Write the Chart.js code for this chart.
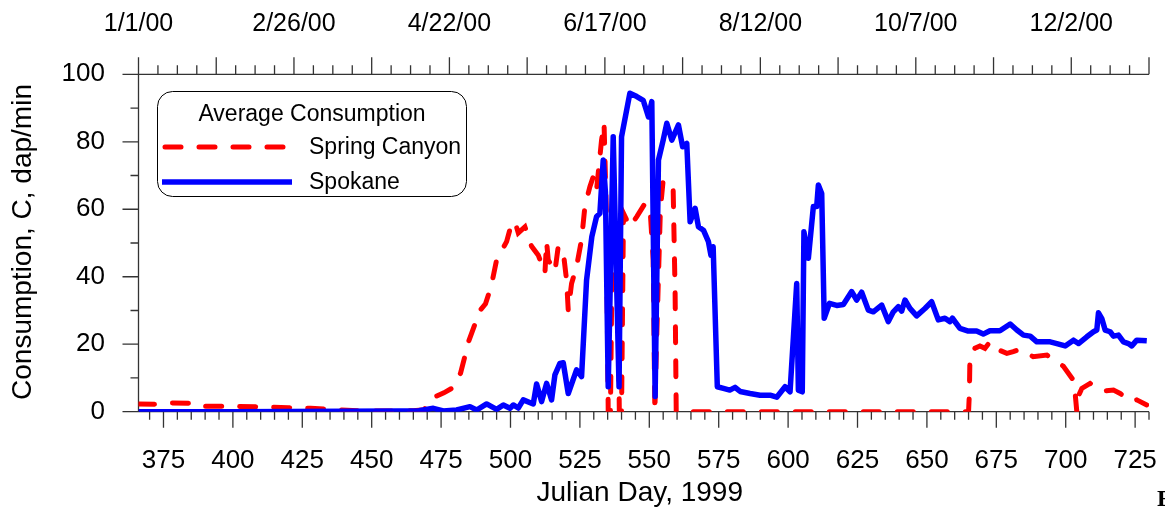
<!DOCTYPE html>
<html>
<head>
<meta charset="utf-8">
<script src="https://cdn.jsdelivr.net/npm/chart.js@4/dist/chart.umd.min.js"></script>
<style>
  html, body { margin: 0; padding: 0; background: #fff; }
  #wrap { width: 1165px; height: 510px; }
</style>
</head>
<body>
<div id="wrap"><canvas id="chart" width="1165" height="510"></canvas></div>
<script>
// Spring Canyon (red dashed) - Julian day / consumption
const springDays = [366, 372, 378, 386, 388, 400, 410, 420, 428, 436, 445, 455, 465, 469, 471, 473, 476, 479,
  482, 485, 489, 491, 493, 495, 498.6, 500.4, 501.6, 502.8, 505.2, 507.6, 510, 512.4, 513, 513.6, 516, 517.2,
  519, 520.2, 520.8, 522, 523.8, 525.6, 526.8, 528.6, 529.8, 531, 532.8, 533.7, 534.5, 535.2, 536, 536.8,
  538.4, 539.2, 540, 540.7, 543, 545.5, 548.5, 550.3, 551.4, 552, 552.6, 554, 555, 556.5, 558.6, 559.3,
  559.7, 600, 640, 665, 665.3, 665.5, 667.3, 669.1, 670.9, 672.7, 674.5, 678.8, 681.1, 683.5, 688.3, 693.2,
  695, 699.1, 702.7, 703.4, 704, 704.5, 705.8, 708.8, 713.5, 717.2, 719.6, 723.8, 725.6, 729.2];
const springValues = [2.3, 2.2, 2.6, 2.5, 1.6, 1.6, 1.4, 1.2, 1.0, 0.6, 0.3, 0.2, 0.3, 0.6, 3.5, 4.5, 5.6, 7,
  11.4, 21, 30, 32, 37, 45, 50.4, 55.8, 56.3, 53, 54.8, 49, 46.4, 41, 50.4, 45, 41.5, 49,
  47.4, 39, 30, 38, 43, 51, 60.8, 66.7, 69.6, 65.7, 80.5, 85.5, 60, 0, 0, 60,
  58, 0, 0, 58.8, 54.8, 57.8, 61.8, 59.8, 45, 0, 20, 60, 68.7, 67, 65.7, 35,
  0, 0, 0, 0, 5.4, 16.3, 18.8, 19.5, 18.8, 20.7, 18.8, 17.3, 17.8, 18.5, 16.3, 16.8,
  15.8, 13.5, 9.4, 5.4, 0, 4.5, 6.9, 8.4, 6.1, 6.4, 5.4, 3.0, 3.5, 2.0];

// Spokane (blue solid)
const spokaneDays = [366, 400, 440, 460, 467, 472.2, 475.8, 480.6, 485.4, 487.8, 491.4, 495, 497.4, 499.8,
  501, 502.8, 504.6, 508.2, 509.4, 511.2, 513, 514.8, 516, 517.8, 519, 520.8, 523.8, 525.6, 527.4, 529.3,
  531, 532.2, 533.4, 534.2, 535.2, 537, 539.1, 540, 543, 545.5, 547.8, 549.7, 550.9, 552.1, 553.3, 555,
  556.3, 558.1, 560.5, 562, 563.5, 564.7, 566.5, 567.7, 569.5, 571.3, 572.2, 573, 574.5, 576.7, 579,
  580.9, 582.7, 586.3, 589.9, 593.5, 595.9, 598.9, 600.7, 603.1, 603.7, 605.1, 605.7, 607.3, 609.1, 610.3,
  610.9, 612.1, 613, 614.9, 617.5, 619.9, 622.9, 624.7, 626.5, 628.9, 630.7, 633.7, 636.1, 637.9, 639.7,
  640.9, 642.1, 643.9, 646.3, 649.3, 651.7, 654.1, 656.5, 658.3, 659.2, 661.9, 664.9, 667.9, 670.3, 672.7,
  676.3, 680, 682.4, 684.8, 687.2, 689.6, 694.4, 696.8, 699.8, 702.8, 704.6, 707.6, 710, 711.2, 711.8, 713,
  714.2, 716, 717.2, 719, 720.8, 722.6, 723.8, 725.6, 729.2];
const spokaneValues = [0, 0, 0.1, 0.2, 0.3, 1.0, 0.2, 0.5, 1.5, 0.5, 2.3, 0.7, 2.0, 1.0,
  2, 1.1, 3.5, 2.3, 8.2, 3.0, 8.4, 3.5, 10.9, 14.3, 14.5, 5.4, 12.4, 10.4, 39, 51.9,
  57.8, 58.8, 74.6, 65, 7.4, 81.5, 7.4, 81.5, 94.4, 93.4, 92.3, 87.4, 91.9, 4.5, 74.6, 80.5,
  85.5, 80.5, 85, 78.5, 79.5, 56.3, 60.3, 54.8, 53.8, 50.4, 46.4, 48.9, 7.4, 6.9, 6.4,
  7.2, 6.0, 5.4, 4.9, 4.9, 4.3, 7.4, 5.9, 38, 6.4, 5.9, 53.3, 45.5, 60.8, 60.8,
  67.2, 64.7, 27.7, 32.1, 31.5, 31.8, 35.6, 33.1, 35.4, 30.1, 29.6, 31.6, 26.7, 29.6, 31.1,
  29.8, 33.1, 30.6, 28.4, 30.6, 32.6, 27.2, 27.7, 26.7, 27.7, 24.7, 23.9, 23.9, 23.0, 24.0,
  24.0, 26.0, 24.2, 22.7, 22.4, 20.7, 20.7, 20.2, 19.5, 21.2, 20.2, 22.2, 23.7, 24.2, 29.3, 27.6,
  24.2, 23.7, 22.4, 22.7, 20.7, 20.2, 19.5, 21.2, 21.0];

// axis ticks
const bottomMajor = [375, 400, 425, 450, 475, 500, 525, 550, 575, 600, 625, 650, 675, 700, 725];
const yMajor = [0, 20, 40, 60, 80, 100];
const dateTickDays = [366, 422, 478, 534, 590, 646, 702];
const dateTickLabels = ["1/1/00", "2/26/00", "4/22/00", "6/17/00", "8/12/00", "10/7/00", "12/2/00"];

const FONT = '"Liberation Sans", Arial, sans-serif';
const RED = "#ff0000";
const BLUE = "#0000ff";
const AXIS = "#333";

function toPoints(xs, ys) {
  return xs.map((x, i) => ({ x, y: ys[i] }));
}

const axesPlugin = {
  id: "axes",
  beforeDatasetsDraw(chart) {
    const { ctx, scales: { x, y } } = chart;
    const x0 = x.getPixelForValue(366), x1 = x.getPixelForValue(730);
    const yb = y.getPixelForValue(0), yt = y.getPixelForValue(100);
    ctx.save();
    ctx.strokeStyle = AXIS;
    ctx.lineWidth = 1.3;
    ctx.beginPath();
    // axis lines
    ctx.moveTo(x0 - 16, yb); ctx.lineTo(x1, yb);
    ctx.moveTo(x0 - 16, yt); ctx.lineTo(x1, yt);
    ctx.moveTo(x0, yt); ctx.lineTo(x0, yb);
    // bottom ticks every 5 days
    for (let d = 370; d <= 730; d += 5) {
      const px = x.getPixelForValue(d);
      const len = bottomMajor.includes(d) ? 16 : 8;
      ctx.moveTo(px, yb); ctx.lineTo(px, yb + len);
    }
    // top ticks every 7 days
    for (let d = 366; d <= 730; d += 7) {
      const px = x.getPixelForValue(d);
      const len = (d - 366) % 28 === 0 ? 17 : 9;
      ctx.moveTo(px, yt); ctx.lineTo(px, yt - len);
    }
    // left ticks
    for (let v = 0; v <= 100; v += 10) {
      const py = y.getPixelForValue(v);
      const len = v % 20 === 0 ? 16 : 8;
      ctx.moveTo(x0, py); ctx.lineTo(x0 - len, py);
    }
    ctx.stroke();
    ctx.restore();
  },
  afterDraw(chart) {
    const { ctx, scales: { x, y } } = chart;
    const x0 = x.getPixelForValue(366);
    ctx.save();
    ctx.fillStyle = "#000";
    ctx.textBaseline = "middle";
    ctx.textAlign = "center";
    ctx.font = "26px " + FONT;
    bottomMajor.forEach(d => ctx.fillText(String(d), x.getPixelForValue(d), 461));
    ctx.font = "25px " + FONT;
    dateTickDays.forEach((d, i) => ctx.fillText(dateTickLabels[i], x.getPixelForValue(d), 24));
    ctx.font = "26px " + FONT;
    ctx.textAlign = "right";
    yMajor.forEach(v => ctx.fillText(String(v), 105, y.getPixelForValue(v)));
    ctx.textAlign = "center";
    ctx.font = "28px " + FONT;
    ctx.fillText("Julian Day, 1999", (x0 + x.getPixelForValue(730)) / 2 - 4, 493);
    ctx.save();
    ctx.translate(23, 242);
    ctx.rotate(-Math.PI / 2);
    ctx.fillText("Consumption, C, dap/min", 0, 0);
    ctx.restore();

    // legend
    ctx.strokeStyle = "#000";
    ctx.lineWidth = 1;
    ctx.beginPath();
    ctx.roundRect(157.5, 91.5, 309, 105, 15);
    ctx.stroke();
    ctx.font = "23px " + FONT;
    ctx.fillText("Average Consumption", 312, 115);
    ctx.textAlign = "left";
    ctx.fillText("Spring Canyon", 309, 148);
    ctx.fillText("Spokane", 309, 183);
    ctx.lineCap = "round";
    ctx.lineWidth = 5;
    ctx.strokeStyle = RED;
    ctx.setLineDash([16, 18]);
    ctx.beginPath(); ctx.moveTo(165, 147); ctx.lineTo(290, 147); ctx.stroke();
    ctx.setLineDash([]);
    ctx.lineCap = "butt";
    ctx.lineWidth = 5.5;
    ctx.strokeStyle = BLUE;
    ctx.beginPath(); ctx.moveTo(162, 182); ctx.lineTo(292, 182); ctx.stroke();

    ctx.fillStyle = "#000";
    ctx.font = 'bold 24px "Liberation Serif", serif';
    ctx.fillText("F", 1157, 500);
    ctx.restore();
  }
};

new Chart(document.getElementById("chart"), {
  type: "line",
  data: {
    datasets: [
      {
        label: "Spokane",
        data: toPoints(spokaneDays, spokaneValues),
        borderColor: BLUE,
        borderWidth: 5.5,
        pointRadius: 0,
        tension: 0,
        borderJoinStyle: "round",
        order: 0,
      },
      {
        label: "Spring Canyon",
        data: toPoints(springDays, springValues),
        borderColor: RED,
        borderWidth: 5,
        borderDash: [16, 18],
        borderCapStyle: "round",
        pointRadius: 0,
        tension: 0,
        order: 1,
      },
    ],
  },
  options: {
    responsive: false,
    animation: false,
    layout: { padding: { left: 138.5, right: 16, top: 74.3, bottom: 98.3 } },
    plugins: { legend: { display: false }, tooltip: { enabled: false } },
    scales: {
      x: { type: "linear", min: 366, max: 730, display: false },
      y: { min: 0, max: 100, display: false },
    },
  },
  plugins: [axesPlugin],
});
</script>
</body>
</html>
